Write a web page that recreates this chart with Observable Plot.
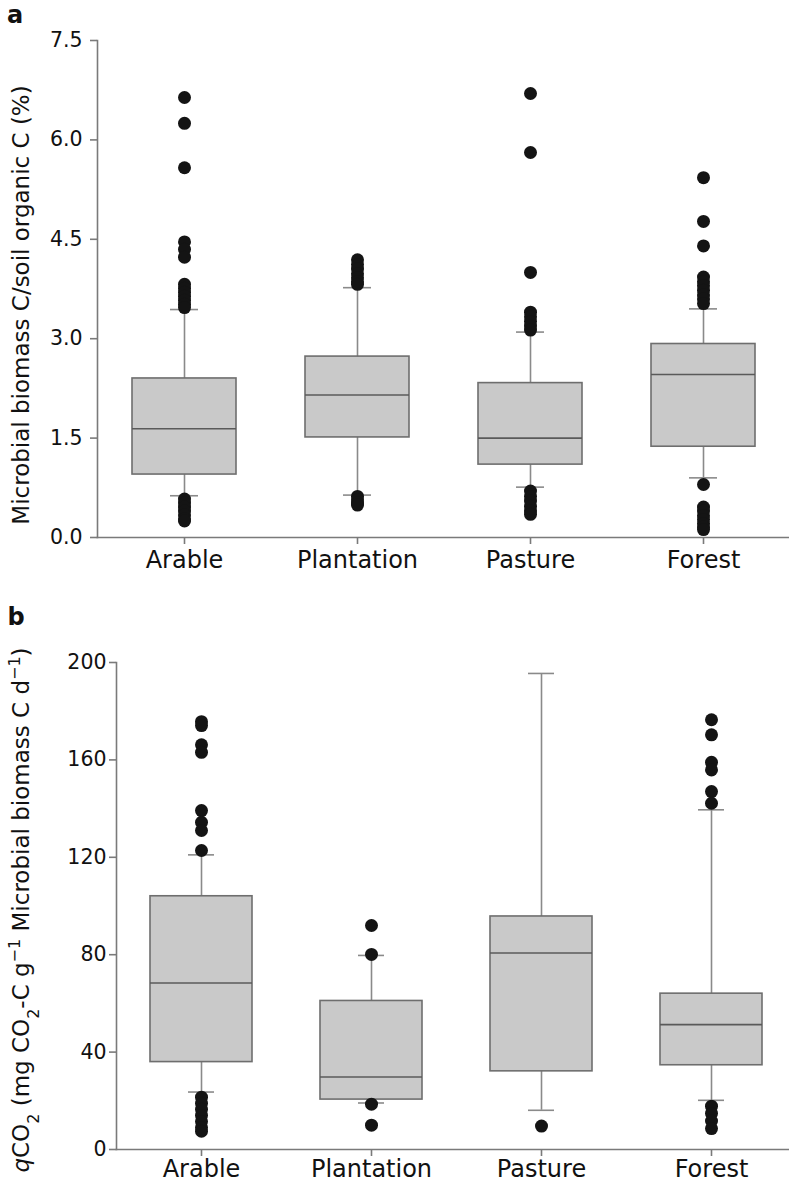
<!DOCTYPE html>
<html>
<head>
<meta charset="utf-8">
<script src="https://cdn.jsdelivr.net/npm/d3@7"></script>
<script src="https://cdn.jsdelivr.net/npm/@observablehq/plot@0.6"></script>
<style>
  html, body { margin: 0; padding: 0; background: #fff; }
  #chart { width: 789px; }
  #chart svg { display: block; }
</style>
</head>
<body>
<div id="chart"></div>
<script>
// ---------- data ----------
const categories = ["Arable", "Plantation", "Pasture", "Forest"];

// Panel a: Microbial biomass C / soil organic C (%)
const aTicks = [0, 1.5, 3.0, 4.5, 6.0, 7.5];
const aQ1 = [0.95, 1.51, 1.10, 1.37];
const aMedian = [1.64, 2.15, 1.50, 2.46];
const aQ3 = [2.40, 2.73, 2.33, 2.92];
const aWhiskerLow = [0.63, 0.64, 0.76, 0.90];
const aWhiskerHigh = [3.44, 3.77, 3.10, 3.45];
const aOutArable = [6.64, 6.25, 5.58, 4.46, 4.35, 4.23, 3.82, 3.76, 3.70, 3.64, 3.58, 3.52, 3.47,
                    0.58, 0.52, 0.46, 0.40, 0.34, 0.28, 0.25];
const aOutPlantation = [4.19, 4.12, 4.05, 3.98, 3.92, 3.86, 3.82, 0.62, 0.57, 0.52, 0.49];
const aOutPasture = [6.70, 5.81, 4.00, 3.40, 3.33, 3.26, 3.19, 3.13, 0.70, 0.62, 0.55, 0.47, 0.40, 0.35];
const aOutForest = [5.43, 4.77, 4.40, 3.93, 3.86, 3.80, 3.73, 3.66, 3.60, 3.53,
                    0.80, 0.46, 0.40, 0.33, 0.27, 0.21, 0.16, 0.12];

// Panel b: qCO2
const bTicks = [0, 40, 80, 120, 160, 200];
const bQ1 = [35.9, 20.5, 32.1, 34.6];
const bMedian = [68.4, 29.8, 80.7, 51.3];
const bQ3 = [104.0, 61.0, 95.7, 64.0];
const bWhiskerLow = [23.6, 19.1, 16.1, 20.2];
const bWhiskerHigh = [121.0, 79.7, 195.5, 139.5];
const bOutArable = [175.7, 174.1, 166.2, 163.1, 139.2, 134.4, 131.0, 122.8,
                    21.5, 19.0, 16.5, 14.0, 11.5, 9.0, 7.5];
const bOutPlantation = [92.0, 80.1, 18.6, 10.0];
const bOutPasture = [9.6];
const bOutForest = [176.5, 170.3, 159.0, 155.9, 147.0, 142.2, 17.8, 14.8, 11.7, 8.6];

// ---------- helpers ----------
function boxRows(q1, med, q3, lo, hi) {
  return categories.map((c, i) => ({cat: c, q1: q1[i], med: med[i], q3: q3[i], lo: lo[i], hi: hi[i]}));
}
function outRows(lists) {
  return lists.flatMap((arr, i) => arr.map(v => ({cat: categories[i], v})));
}

const FONT = "DejaVu Sans, Liberation Sans, Arial, sans-serif";
const AXIS = "#7a7a7a";
const WHISK = "#8a8a8a";

function boxPlot({boxes, outs, ticks, fmt, domain, height, marginLeft, marginRight, marginTop, marginBottom, yPad, xPad}) {
  return Plot.plot({
    width: 789,
    height,
    marginLeft, marginRight, marginTop, marginBottom,
    style: {fontFamily: FONT, background: "transparent", color: "#111", overflow: "visible"},
    x: {domain: categories, paddingInner: 0.4, paddingOuter: 0.2, label: null},
    y: {domain, label: null},
    marks: [
      Plot.ruleX(boxes, {x: "cat", y1: "lo", y2: "hi", stroke: WHISK, strokeWidth: 1.6}),
      Plot.tickY(boxes, {x: "cat", y: "lo", stroke: WHISK, strokeWidth: 1.6, insetLeft: 38, insetRight: 38}),
      Plot.tickY(boxes, {x: "cat", y: "hi", stroke: WHISK, strokeWidth: 1.6, insetLeft: 38, insetRight: 38}),
      Plot.barY(boxes, {x: "cat", y1: "q1", y2: "q3", fill: "#c9c9c9", stroke: "#6e6e6e", strokeWidth: 1.6}),
      Plot.tickY(boxes, {x: "cat", y: "med", stroke: "#5a5a5a", strokeWidth: 1.6}),
      Plot.dot(outs, {x: "cat", y: "v", r: 6.5, fill: "#141414", stroke: null}),
      Plot.frame({anchor: "left", stroke: AXIS, strokeWidth: 1.6}),
      Plot.frame({anchor: "bottom", stroke: AXIS, strokeWidth: 1.6}),
      Plot.axisY({ticks, tickFormat: fmt, tickSize: 7, tickPadding: yPad, fontSize: 20.5,
                  stroke: AXIS, strokeWidth: 1.6, fill: "#111", label: null}),
      Plot.axisX({tickSize: 7, tickPadding: xPad, fontSize: 24, stroke: AXIS, strokeWidth: 1.6,
                  fill: "#111", label: null})
    ]
  });
}

const chart = document.getElementById("chart");

// ---------- panel a ----------
const svgA = boxPlot({
  boxes: boxRows(aQ1, aMedian, aQ3, aWhiskerLow, aWhiskerHigh),
  outs: outRows([aOutArable, aOutPlantation, aOutPasture, aOutForest]),
  ticks: aTicks, fmt: d => d.toFixed(1), domain: [0, 7.5],
  height: 595, marginLeft: 97, marginRight: 0, marginTop: 40, marginBottom: 58, yPad: 8, xPad: 6
});
chart.appendChild(svgA);
{
  const s = d3.select(svgA);
  s.append("text").attr("x", 15).attr("y", 23)
    .attr("font-family", FONT).attr("font-size", 24).attr("font-weight", "bold").attr("fill", "#111").text("a");
  s.append("text").attr("transform", "translate(29,305) rotate(-90)")
    .attr("text-anchor", "middle").attr("font-family", FONT).attr("font-size", 23).attr("fill", "#111")
    .text("Microbial biomass C/soil organic C (%)");
}

// ---------- panel b ----------
const svgB = boxPlot({
  boxes: boxRows(bQ1, bMedian, bQ3, bWhiskerLow, bWhiskerHigh),
  outs: outRows([bOutArable, bOutPlantation, bOutPasture, bOutForest]),
  ticks: bTicks, fmt: d => String(d), domain: [0, 200],
  height: 589, marginLeft: 116, marginRight: -7, marginTop: 67, marginBottom: 35, yPad: 3, xPad: 3
});
chart.appendChild(svgB);
{
  const s = d3.select(svgB);
  s.append("text").attr("x", 16).attr("y", 30)
    .attr("font-family", FONT).attr("font-size", 24).attr("font-weight", "bold").attr("fill", "#111").text("b");
  const t = s.append("text").attr("transform", "translate(29,315) rotate(-90)")
    .attr("text-anchor", "middle").attr("font-family", FONT).attr("font-size", 23).attr("fill", "#111");
  const parts = [
    ["q", "italic"], ["CO", null], ["2", "sub"], [" (mg CO", null], ["2", "sub"], ["-C g", null],
    ["\u22121", "super"], [" Microbial biomass C d", null], ["\u22121", "super"], [")", null]
  ];
  for (const [txt, kind] of parts) {
    const ts = t.append("tspan").text(txt);
    if (kind === "italic") ts.attr("font-style", "italic");
    if (kind === "sub") ts.attr("baseline-shift", "sub").attr("font-size", 16);
    if (kind === "super") ts.attr("baseline-shift", "super").attr("font-size", 16);
  }
}
</script>
</body>
</html>
